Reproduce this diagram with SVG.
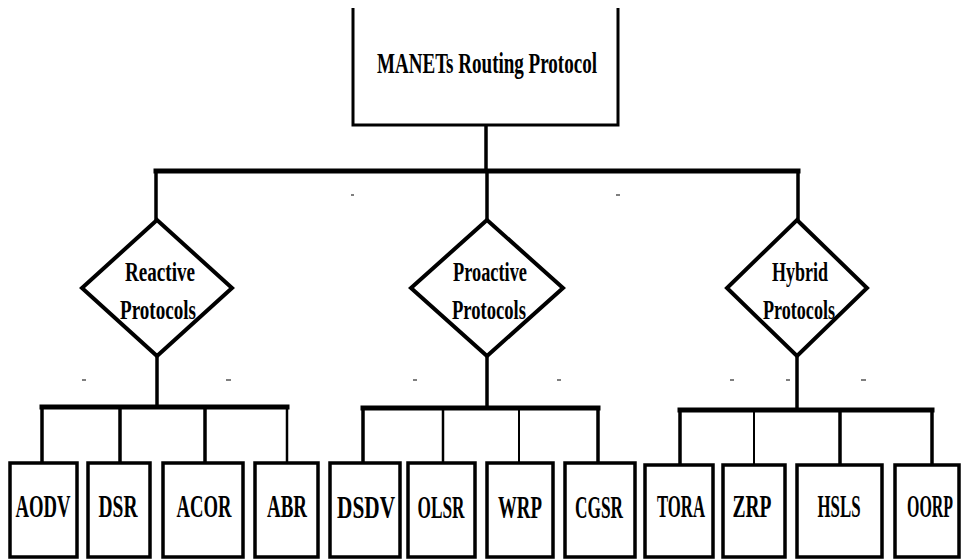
<svg xmlns="http://www.w3.org/2000/svg" width="961" height="559" viewBox="0 0 961 559">
<style>
.ln{stroke:#000;fill:none;stroke-linecap:square}
.bar{stroke-width:5}
.drop{stroke-width:3.5}
.box{fill:#fff;stroke:#000;stroke-width:3.5}
.dia{fill:#fff;stroke:#000;stroke-width:4;stroke-linejoin:miter}
.t{font-family:"Liberation Serif","Times New Roman",serif;font-weight:bold;fill:#000;text-anchor:middle}
.lb{font-size:32px}
.dt{font-size:27px}
.tick{stroke:#555;stroke-width:1.5}
</style>
<rect width="961" height="559" fill="#fff"/>
<g id="connectors">
<line class="ln" x1="486" y1="125" x2="486" y2="171" style="stroke-width:3.5"/>
<line class="ln bar" x1="156" y1="171" x2="798" y2="171"/>
<line class="ln drop" x1="156" y1="171" x2="156" y2="220"/>
<line class="ln drop" x1="487" y1="171" x2="487" y2="220"/>
<line class="ln drop" x1="798" y1="171" x2="798" y2="220"/>
<line class="ln drop" x1="157" y1="356" x2="157" y2="407"/>
<line class="ln bar" x1="42" y1="407" x2="287" y2="407"/>
<line class="ln drop" x1="42" y1="407" x2="42" y2="463"/>
<line class="ln drop" x1="120" y1="407" x2="120" y2="463"/>
<line class="ln drop" x1="205" y1="407" x2="205" y2="463"/>
<line class="ln" x1="287" y1="407" x2="287" y2="463" style="stroke-width:2.5"/>
<line class="ln drop" x1="487" y1="356" x2="487" y2="408"/>
<line class="ln bar" x1="363" y1="408" x2="598" y2="408"/>
<line class="ln drop" x1="363" y1="408" x2="363" y2="463"/>
<line class="ln" x1="443" y1="408" x2="443" y2="463" style="stroke-width:2.5"/>
<line class="ln" x1="519" y1="408" x2="519" y2="463" style="stroke-width:2"/>
<line class="ln drop" x1="598" y1="408" x2="598" y2="463"/>
<line class="ln drop" x1="797" y1="356" x2="797" y2="410"/>
<line class="ln bar" x1="680" y1="410" x2="932" y2="410"/>
<line class="ln drop" x1="680" y1="410" x2="680" y2="465"/>
<line class="ln" x1="754" y1="410" x2="754" y2="465" style="stroke-width:2"/>
<line class="ln drop" x1="840" y1="410" x2="840" y2="465"/>
<line class="ln drop" x1="932" y1="410" x2="932" y2="465"/>
</g>
<g id="ticks">
<line class="tick" x1="351" y1="195" x2="354" y2="195"/>
<line class="tick" x1="616" y1="195" x2="620" y2="195"/>
<line class="tick" x1="82" y1="380" x2="86" y2="380"/>
<line class="tick" x1="226" y1="380" x2="231" y2="380"/>
<line class="tick" x1="413" y1="380" x2="417" y2="380"/>
<line class="tick" x1="557" y1="380" x2="561" y2="380"/>
<line class="tick" x1="730" y1="380" x2="734" y2="380"/>
<line class="tick" x1="786" y1="380" x2="790" y2="380"/>
<line class="tick" x1="861" y1="380" x2="866" y2="380"/>
</g>
<g id="root">
<path d="M353,8 V125 H618 V8" fill="#fff" stroke="#000" stroke-width="3"/>
<text class="t" transform="translate(487,73) scale(0.68,1)" style="font-size:30px" textLength="323.5" lengthAdjust="spacingAndGlyphs">MANETs Routing Protocol</text>
</g>
<g id="reactive">
<polygon class="dia" points="157,220 232,288 157,356 82,288"/>
<text class="t dt" transform="translate(160,281) scale(0.7,1)" textLength="100" lengthAdjust="spacingAndGlyphs">Reactive</text>
<text class="t dt" transform="translate(158,319) scale(0.7,1)" textLength="108.6" lengthAdjust="spacingAndGlyphs">Protocols</text>
</g>
<g id="proactive">
<polygon class="dia" points="487,220 563,288 487,356 411,288"/>
<text class="t dt" transform="translate(490,281) scale(0.7,1)" textLength="105.7" lengthAdjust="spacingAndGlyphs">Proactive</text>
<text class="t dt" transform="translate(489,319) scale(0.7,1)" textLength="105.7" lengthAdjust="spacingAndGlyphs">Protocols</text>
</g>
<g id="hybrid">
<polygon class="dia" points="797,220 867,288 797,356 727,288"/>
<text class="t dt" transform="translate(800,281) scale(0.7,1)" textLength="80" lengthAdjust="spacingAndGlyphs">Hybrid</text>
<text class="t dt" transform="translate(799,319) scale(0.7,1)" textLength="102.9" lengthAdjust="spacingAndGlyphs">Protocols</text>
</g>
<g id="aodv"><rect class="box" x="10" y="463" width="67" height="94"/><text class="t lb" transform="translate(43,517) scale(0.6,1)" textLength="91.7" lengthAdjust="spacingAndGlyphs">AODV</text></g>
<g id="dsr"><rect class="box" x="88" y="463" width="62" height="94"/><text class="t lb" transform="translate(118,517) scale(0.6,1)" textLength="65" lengthAdjust="spacingAndGlyphs">DSR</text></g>
<g id="acor"><rect class="box" x="163" y="463" width="80" height="94"/><text class="t lb" transform="translate(204,517) scale(0.6,1)" textLength="91.7" lengthAdjust="spacingAndGlyphs">ACOR</text></g>
<g id="abr"><rect class="box" x="255" y="463" width="63" height="94"/><text class="t lb" transform="translate(287,517) scale(0.6,1)" textLength="66.7" lengthAdjust="spacingAndGlyphs">ABR</text></g>
<g id="dsdv"><rect class="box" x="330" y="463" width="70" height="94"/><text class="t lb" transform="translate(366,518) scale(0.6,1)" textLength="96.7" lengthAdjust="spacingAndGlyphs">DSDV</text></g>
<g id="olsr"><rect class="box" x="408" y="463" width="67" height="94"/><text class="t lb" transform="translate(441,518) scale(0.6,1)" textLength="78.3" lengthAdjust="spacingAndGlyphs">OLSR</text></g>
<g id="wrp"><rect class="box" x="487" y="463" width="66" height="94"/><text class="t lb" transform="translate(520,518) scale(0.6,1)" textLength="73.3" lengthAdjust="spacingAndGlyphs">WRP</text></g>
<g id="cgsr"><rect class="box" x="565" y="463" width="70" height="94"/><text class="t lb" transform="translate(599,518) scale(0.6,1)" textLength="80" lengthAdjust="spacingAndGlyphs">CGSR</text></g>
<g id="tora"><rect class="box" x="645" y="465" width="68" height="92"/><text class="t lb" transform="translate(681,517) scale(0.6,1)" textLength="80" lengthAdjust="spacingAndGlyphs">TORA</text></g>
<g id="zrp"><rect class="box" x="723" y="465" width="62" height="92"/><text class="t lb" transform="translate(752,517) scale(0.6,1)" textLength="65" lengthAdjust="spacingAndGlyphs">ZRP</text></g>
<g id="hsls"><rect class="box" x="797" y="465" width="85" height="92"/><text class="t lb" transform="translate(839,517) scale(0.6,1)" textLength="71.7" lengthAdjust="spacingAndGlyphs">HSLS</text></g>
<g id="oorp"><rect class="box" x="895" y="465" width="64" height="92"/><text class="t lb" transform="translate(930,517) scale(0.6,1)" textLength="76.7" lengthAdjust="spacingAndGlyphs">OORP</text></g>
</svg>
